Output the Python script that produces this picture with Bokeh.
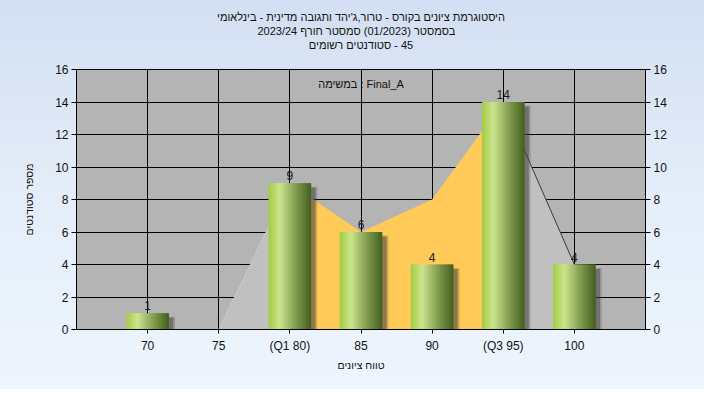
import math
from bokeh.plotting import figure
from bokeh.models import Range1d, LinearAxis, FixedTicker, Label, Title
from bokeh.core.properties import value
from bokeh.embed import file_html
from bokeh.resources import INLINE

# ---------------- data ----------------
categories = ["70", "75", "(Q1 80)", "85", "90", "(Q3 95)", "100"]
counts = [1, 0, 9, 6, 4, 14, 4]

low_area_cats = ["70", "75", "(Q1 80)"]
low_area_vals = [0, 0, 9]
mid_area_cats = ["(Q1 80)", "85", "90", "(Q3 95)"]
mid_area_vals = [9, 6, 8, 14]
high_area_cats = ["(Q3 95)", "100"]
high_area_vals = [14, 4]

y_ticks = [0, 2, 4, 6, 8, 10, 12, 14, 16]

title_lines = [
    "היסטוגרמת ציונים בקורס - טרור,ג'יהד ותגובה מדינית - בינלאומי",
    "בסמסטר  (01/2023)  סמסטר חורף  2023/24",
    "סטודנטים רשומים\u200e - 45",
]
y_label = "מספר סטודנטים"
x_label = "טווח ציונים"
task_label = "במשימה : Final_A"

FONT = "Liberation Sans"
TXT = "#111111"

# ---------------- figure ----------------
pos = {c: i for i, c in enumerate(categories)}
idx = list(range(len(categories)))

p = figure(width=704, height=389, x_range=Range1d(-1, 7), y_range=Range1d(0, 16),
           output_backend="svg", toolbar_location=None,
           min_border_left=76, min_border_right=59, min_border_top=69, min_border_bottom=60)
p.title.visible = False
p.background_fill_color = "#b4b4b4"
p.border_fill_alpha = 0
p.styles = {"background": "linear-gradient(180deg, #d3dff2 0%, #e4edf9 50%, #eef5fe 100%)"}
p.outline_line_color = "black"

# spacer between title block and frame, then title lines (first added is nearest the frame)
p.add_layout(Title(text="\u00a0", text_font=FONT, text_font_size="16px", standoff=0), "above")
for line in reversed(title_lines):
    t = Title(text=line, align="center", text_font=FONT, text_font_size="11px",
              text_font_style="normal", text_color=TXT, standoff=0, offset=-9)
    p.add_layout(t, "above")

p.xgrid.ticker = FixedTicker(ticks=idx)
p.ygrid.ticker = FixedTicker(ticks=y_ticks)
for g in (p.xgrid, p.ygrid):
    g.grid_line_color = "black"
    g.grid_line_alpha = 1.0
    g.grid_line_width = 1

p.xaxis.ticker = FixedTicker(ticks=idx)
p.xaxis.major_label_overrides = {i: c for i, c in enumerate(categories)}
p.yaxis.ticker = FixedTicker(ticks=y_ticks)
ra = LinearAxis(ticker=FixedTicker(ticks=y_ticks))
p.add_layout(ra, "right")

for ax in (p.xaxis[0], p.yaxis[0], ra):
    ax.axis_line_color = "black"
    ax.major_tick_line_color = "black"
    ax.major_tick_out = 5
    ax.major_tick_in = 0
    ax.minor_tick_out = 0
    ax.minor_tick_in = 0
    ax.major_label_text_font = FONT
    ax.major_label_text_font_size = "12px"
    ax.major_label_text_color = TXT
    ax.major_label_standoff = 3
    ax.axis_label_text_font = FONT
    ax.axis_label_text_font_size = "10.5px"
    ax.axis_label_text_font_style = "normal"
    ax.axis_label_text_color = TXT
p.xaxis[0].major_tick_out = 4
p.xaxis[0].major_label_standoff = 5
p.xaxis[0].axis_label = x_label
p.xaxis[0].axis_label_standoff = 3
p.yaxis[0].axis_label = y_label
p.yaxis[0].axis_label_standoff = 17

# ---------------- areas ----------------
lx = [pos[c] for c in low_area_cats]
p.varea(x=lx, y1=[0] * len(lx), y2=low_area_vals, fill_color="#c0c0c0")
p.line(x=lx, y=low_area_vals, line_color="#cacaca", line_width=1)

mx = [pos[c] for c in mid_area_cats]
p.varea(x=mx, y1=[0] * len(mx), y2=mid_area_vals, fill_color="#ffca58")

hx = [pos[c] for c in high_area_cats]
p.varea(x=hx, y1=[0] * len(hx), y2=high_area_vals, fill_color="#c0c0c0")
p.line(x=hx, y=high_area_vals, line_color="#3a3a3a", line_width=1)

# ---------------- bars ----------------
bar_w = 0.6
bx = [pos[c] for c, v in zip(categories, counts) if v > 0]
bv = [v for v in counts if v > 0]

# shadow
p.vbar(x=[x + 0.075 for x in bx], width=bar_w + 0.02, bottom=0,
       top=[v - 0.22 for v in bv], fill_color="#404040", fill_alpha=0.25, line_alpha=0)
p.vbar(x=[x + 0.06 for x in bx], width=bar_w, bottom=0,
       top=[v - 0.28 for v in bv], fill_color="#404040", fill_alpha=0.45, line_alpha=0)

stops = [(0.0, (160, 204, 64)), (0.12, (182, 216, 100)), (0.27, (203, 229, 143)),
         (0.45, (168, 192, 110)), (0.7, (118, 146, 70)), (1.0, (68, 94, 30))]


def col(t):
    for (t0, c0), (t1, c1) in zip(stops[:-1], stops[1:]):
        if t0 <= t <= t1:
            f = (t - t0) / (t1 - t0)
            return "#%02x%02x%02x" % tuple(int(round(a + (b - a) * f)) for a, b in zip(c0, c1))
    return "#%02x%02x%02x" % stops[-1][1]


N = 22
sw = bar_w / N
for k in range(N):
    t = (k + 0.5) / N
    rel_left = -bar_w / 2 + k * sw
    w = min(sw * 1.8, bar_w / 2 - rel_left)
    xs = [x + rel_left + w / 2 for x in bx]
    p.vbar(x=xs, width=w, bottom=0, top=bv, fill_color=col(t), line_alpha=0)

# value labels
p.text(x=bx, y=bv, text=[str(v) for v in bv], text_align="center", text_baseline="bottom",
       y_offset=-3, text_font=value(FONT), text_font_size="12px", text_color="#1a1a1a")

# task label inside the frame
p.add_layout(Label(x=3.0, y=16, y_offset=-14, text=task_label, text_align="center",
                   text_baseline="middle", text_font=FONT, text_font_size="11px", text_color=TXT))

open("out.html", "w").write(file_html(p, INLINE))
